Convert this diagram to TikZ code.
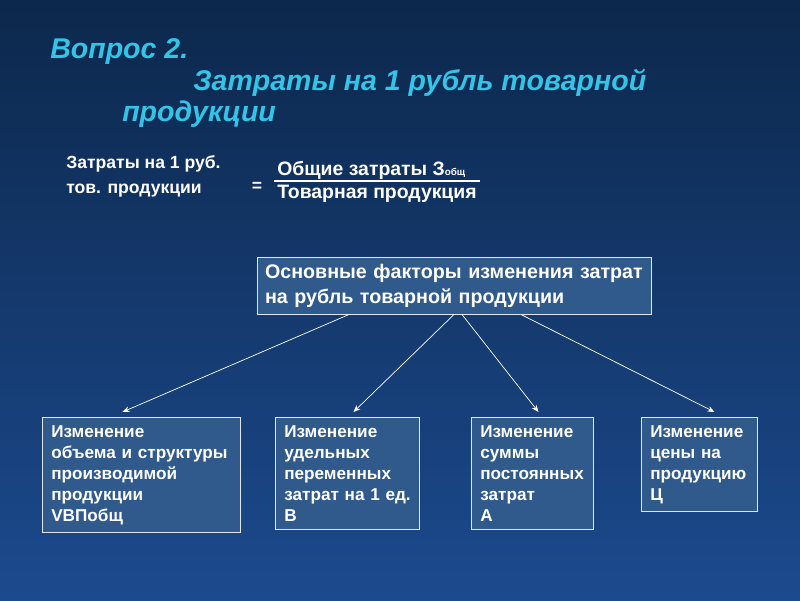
\documentclass[tikz,border=0pt]{standalone}
\usepackage{fontspec}
\setmainfont{Liberation Sans}
\usetikzlibrary{positioning,arrows.meta}
\definecolor{titlecyan}{RGB}{52,196,232}
\definecolor{boxblue}{RGB}{48,90,140}
\definecolor{bgtop}{RGB}{12,40,76}
\definecolor{bgbot}{RGB}{28,74,142}
\tikzset{title/.style={anchor=base west,inner sep=0pt,text=titlecyan,font=\bfseries\itshape\fontsize{20.3}{24}\selectfont},
	 formula/.style={inner sep=0pt,text=white,font=\bfseries\fontsize{12.5}{17.7}\selectfont},
	 mainbox/.style={draw=white!85!boxblue,line width=0.7pt,fill=boxblue,text=white,align=left,
	   inner xsep=0.2cm,inner ysep=0.15cm,font=\bfseries\fontsize{14}{17.7}\selectfont},
	 factor/.style={draw=white!85!boxblue,line width=0.7pt,fill=boxblue,text=white,align=left,anchor=north west,
	   inner xsep=0.22cm,inner ysep=0.2cm,font=\bfseries\fontsize{12.2}{14.9}\selectfont},
	 link/.style={draw=white,line width=0.5pt,-{Stealth[length=5pt,width=4pt]}},
	 node distance = 1
	 }
\begin{document}
\begin{tikzpicture}
	\useasboundingbox (0,0) rectangle (20,15);
	\shade[top color=bgtop,bottom color=bgbot] (0,0) rectangle (20,15);
	% title
	\node[title] (t1) at (1.25,13.525) {Вопрос 2.};
	\node[title] (t2) at (4.825,12.725) {Затраты на 1 рубль товарной};
	\node[title] (t3) at (3.05,11.95) {продукции};
	% formula
	\node[formula,align=left,anchor=north west] (lhs) at (1.65,11.125) {Затраты на 1 руб.\\тов. продукции};
	\node[formula] (eq) at (6.425,10.325) {=};
	\node[formula,anchor=base west,font=\bfseries\fontsize{13.8}{16}\selectfont] (num) at (6.925,10.62)
	  {Общие затраты З{\fontsize{7}{8}\selectfont общ}};
	\node[formula,anchor=base west,font=\bfseries\fontsize{13.8}{16}\selectfont] (den) at (6.925,10.025)
	  {Товарная продукция};
	\draw[white,line width=0.8pt] (6.85,10.475) -- (12,10.475);
	% factors
	\node[mainbox,text width=9.45cm,minimum height=1.425cm] (main) at (11.35,7.8625)
	  {Основные факторы изменения затрат\\на рубль товарной продукции};
	\node[factor,text width=4.51cm] (f1) at (1.05,4.575)
	  {Изменение\\объема и структуры\\производимой\\продукции\\VBПобщ};
	\node[factor,text width=3.16cm] (f2) at (6.875,4.575)
	  {Изменение\\удельных\\переменных\\затрат~на~1~ед.\\В};
	\node[factor,text width=2.61cm] (f3) at (11.775,4.575)
	  {Изменение\\суммы\\постоянных\\затрат\\А};
	\node[factor,text width=2.46cm] (f4) at (16.025,4.575)
	  {Изменение\\цены на\\продукцию\\Ц};
	\draw[link] ([xshift=-2.625cm]main.south) to ([xshift=-0.475cm,yshift=0.125cm]f1.north);
	\draw[link] (main.south) to ([xshift=0.15cm,yshift=0.125cm]f2.north);
	\draw[link] ([xshift=0.2cm]main.south) to ([xshift=0.15cm,yshift=0.125cm]f3.north);
	\draw[link] ([xshift=1.675cm]main.south) to ([xshift=0.375cm,yshift=0.125cm]f4.north);
\end{tikzpicture}
\end{document}
